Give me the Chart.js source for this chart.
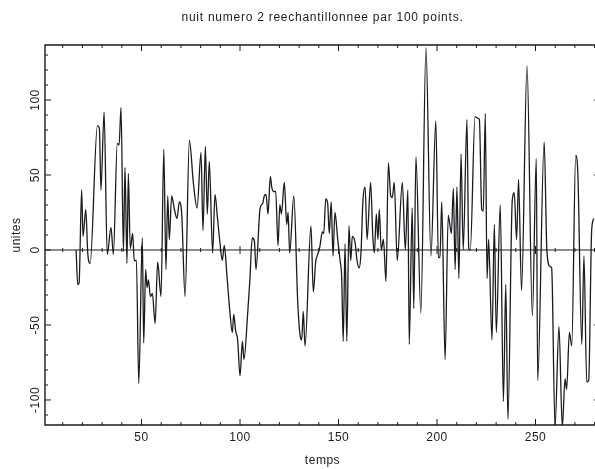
<!DOCTYPE html>
<html>
<head>
<meta charset="utf-8">
<script src="https://cdn.jsdelivr.net/npm/chart.js@4.4.0/dist/chart.umd.min.js"></script>
<style>
  html, body { margin: 0; padding: 0; background: #fff; }
</style>
</head>
<body>
<canvas id="nuitChart" width="595" height="469"></canvas>
<script>
// Texts
const titre = 'nuit numero 2 reechantillonnee par 100 points.';
const xLabel = 'temps';
const yLabel = 'unites';

// Tick labels
const xTickLabels = [50, 100, 150, 200, 250];
const yTickLabels = [-100, -50, 0, 50, 100];

// Series (temps, unites)
const temps = [
  16.8, 17.6, 18.3, 19.6, 20.3, 21.7, 22.7, 23.9, 27.6, 28.6,
  29.4, 31.0, 32.6, 34.5, 35.7, 37.7, 38.6, 39.6, 40.8, 41.6,
  42.6, 43.3, 44.3, 45.5, 46.3, 47.4, 48.6, 50.4, 51.1, 52.1,
  52.8, 53.5, 54.5, 55.5, 56.9, 58.2, 59.9, 61.3, 62.4, 63.3,
  64.1, 65.3, 66.7, 68.0, 69.2, 70.4, 72.1, 74.3, 76.3, 78.2,
  80.2, 81.2, 82.4, 83.4, 84.4, 86.1, 87.3, 88.5, 89.8, 91.0,
  92.0, 93.3, 94.9, 96.1, 96.8, 97.8, 98.8, 100.0, 101.2, 102.0,
  103.9, 105.0, 106.2, 107.3, 108.1, 110.2, 111.5, 112.3, 113.2, 114.2,
  115.4, 116.1, 117.1, 118.1, 119.3, 120.2, 121.0, 122.5, 123.7, 124.4,
  125.2, 127.3, 129.3, 130.6, 131.3, 132.1, 133.0, 136.0, 137.2, 138.4,
  139.4, 140.5, 141.8, 142.5, 143.5, 144.5, 145.3, 146.3, 147.2, 148.2,
  149.6, 150.8, 151.6, 152.4, 153.3, 154.2, 155.3, 156.2, 157.0, 158.4,
  159.4, 160.4, 161.4, 162.4, 163.5, 164.5, 166.3, 167.4, 168.2, 169.2,
  170.0, 170.7, 171.7, 172.8, 174.1, 175.3, 176.5, 177.3, 178.3, 179.8,
  182.4, 183.9, 185.2, 185.9, 187.4, 188.2, 189.3, 191.8, 194.4, 196.9,
  199.4, 200.7, 201.5, 202.4, 204.1, 205.7, 207.3, 208.3, 209.2, 210.1,
  211.1, 212.2, 213.3, 215.2, 216.1, 216.9, 219.3, 220.6, 221.5, 222.7,
  223.5, 224.5, 225.4, 226.2, 227.9, 229.1, 230.1, 232.1, 233.7, 234.9,
  236.0, 238.2, 239.2, 240.4, 241.4, 242.9, 245.7, 248.4, 250.4, 251.1,
  254.4, 255.8, 257.4, 258.2, 259.9, 261.9, 263.6, 265.0, 265.8, 267.2,
  268.4, 270.4, 271.5, 273.5, 274.6, 276.0, 277.0, 278.5, 279.6
];
const unites = [
  0, -23, -22, 40, 9, 27, -2, -9, 83, 81,
  40, 92, -3, 15, -3, 71, 70, 95, -1, 55,
  -9, 51, 1, 11, -7, -7, -89, 8, -62, -13,
  -25, -20, -31, -29, -49, -8, -31, 67, -13, 36,
  7, 36, 27, 21, 32, 24, -31, 73, 45, 28,
  65, 13, 69, 24, 59, -2, 37, 22, 5, -7,
  3, -16, -42, -55, -43, -54, -60, -84, -61, -73,
  -42, -20, 8, 6, -13, 28, 31, 36, 37, 24,
  49, 42, 39, 39, 3, 30, 24, 45, 17, 25,
  -2, 36, -35, -58, -60, -41, -64, 16, -28, -8,
  -3, 2, 12, 11, 34, 31, 11, 32, -4, 25,
  7, -7, -18, -61, 4, -61, 16, -7, 9, 5,
  -7, -12, -2, 33, 42, 7, 45, 9, -2, 24,
  7, 27, 0, 7, -21, 58, 36, 35, 45, -7,
  45, 0, 40, -63, 28, -39, 62, -42, 135, -4,
  86, -5, -5, 32, -73, 23, 11, 41, -13, 42,
  -19, 64, 0, 87, 1, 0, 89, 88, 87, 27,
  26, 91, -19, 7, -60, 17, -55, 30, -101, -23,
  -113, 33, 38, 7, 47, -27, 123, -44, 61, -87,
  72, -1, -11, -12, -118, -51, -118, -86, -93, -55,
  -64, 63, 51, -63, -4, -88, -87, 13, 21
];

// the original frame goes a little past the right edge of the picture
const xMin = 1, xMax = 280.2, xFrameEnd = 282.7;
const yMin = -116.7, yMax = 136.7;

const ink = '#1c1a1f';
const textFont = '12px "Liberation Sans", Arial, sans-serif';

// Frame, inward ticks, zero line and labels in the old plotting style
const pgplotAxes = {
  id: 'pgplotAxes',
  beforeDatasetsDraw(chart) {
    const { ctx, chartArea: a, scales: { x, y } } = chart;
    const y0 = y.getPixelForValue(0);
    ctx.save();
    ctx.strokeStyle = ink;
    ctx.lineWidth = 1;
    ctx.beginPath();
    ctx.moveTo(a.left, y0);
    ctx.lineTo(a.right, y0);
    for (let t = 10; t <= 280; t += 10) {
      const px = x.getPixelForValue(t);
      const len = t % 50 === 0 ? 4 : 2;
      ctx.moveTo(px, y0 - len);
      ctx.lineTo(px, y0 + len);
    }
    ctx.stroke();
    ctx.restore();
  },
  afterDraw(chart) {
    const { ctx, chartArea: a, scales: { x, y } } = chart;
    const right = x.getPixelForValue(xFrameEnd);
    ctx.save();
    ctx.strokeStyle = ink;
    ctx.lineWidth = 1.4;
    ctx.beginPath();
    ctx.moveTo(right, a.top);
    ctx.lineTo(a.left, a.top);
    ctx.lineTo(a.left, a.bottom);
    ctx.lineTo(right, a.bottom);
    ctx.stroke();

    ctx.lineWidth = 1;
    ctx.beginPath();
    for (let t = 10; t <= 280; t += 10) {
      const px = x.getPixelForValue(t);
      const len = t % 50 === 0 ? 6 : 3;
      ctx.moveTo(px, a.bottom);
      ctx.lineTo(px, a.bottom - len);
      ctx.moveTo(px, a.top);
      ctx.lineTo(px, a.top + len);
    }
    for (let v = -110; v <= 130; v += 10) {
      const py = y.getPixelForValue(v);
      const len = v % 50 === 0 ? 6 : 3;
      ctx.moveTo(a.left, py);
      ctx.lineTo(a.left + len, py);
      ctx.moveTo(right, py);
      ctx.lineTo(right - len, py);
    }
    ctx.stroke();

    ctx.fillStyle = ink;
    ctx.font = textFont;
    ctx.letterSpacing = '0.5px';
    ctx.textAlign = 'center';
    ctx.textBaseline = 'middle';
    xTickLabels.forEach(t => {
      ctx.fillText(String(t), x.getPixelForValue(t), 438);
    });
    const mid = (a.left + right) / 2;
    ctx.fillText(xLabel, mid, 461);
    ctx.letterSpacing = '0.75px';
    ctx.fillText(titre, mid, 18);
    ctx.letterSpacing = '0.5px';

    yTickLabels.forEach(v => {
      ctx.save();
      ctx.translate(36, y.getPixelForValue(v));
      ctx.rotate(-Math.PI / 2);
      ctx.fillText(String(v), 0, 0);
      ctx.restore();
    });
    ctx.save();
    ctx.translate(17, (a.top + a.bottom) / 2);
    ctx.rotate(-Math.PI / 2);
    ctx.fillText(yLabel, 0, 0);
    ctx.restore();
    ctx.restore();
  }
};

const ctx = document.getElementById('nuitChart').getContext('2d');
const nuitChart = new Chart(ctx, {
  type: 'line',
  data: {
    datasets: [{
      label: titre,
      data: temps.map((t, i) => ({ x: t, y: unites[i] })),
      borderColor: ink,
      borderWidth: 1.3,
      pointRadius: 0,
      fill: false,
      cubicInterpolationMode: 'monotone'
    }]
  },
  options: {
    responsive: false,
    animation: false,
    layout: { padding: { left: 45, top: 45, right: 0, bottom: 44 } },
    plugins: {
      legend: { display: false },
      tooltip: { enabled: false }
    },
    scales: {
      x: { type: 'linear', min: xMin, max: xMax, display: false },
      y: { type: 'linear', min: yMin, max: yMax, display: false }
    }
  },
  plugins: [pgplotAxes]
});
</script>
</body>
</html>
